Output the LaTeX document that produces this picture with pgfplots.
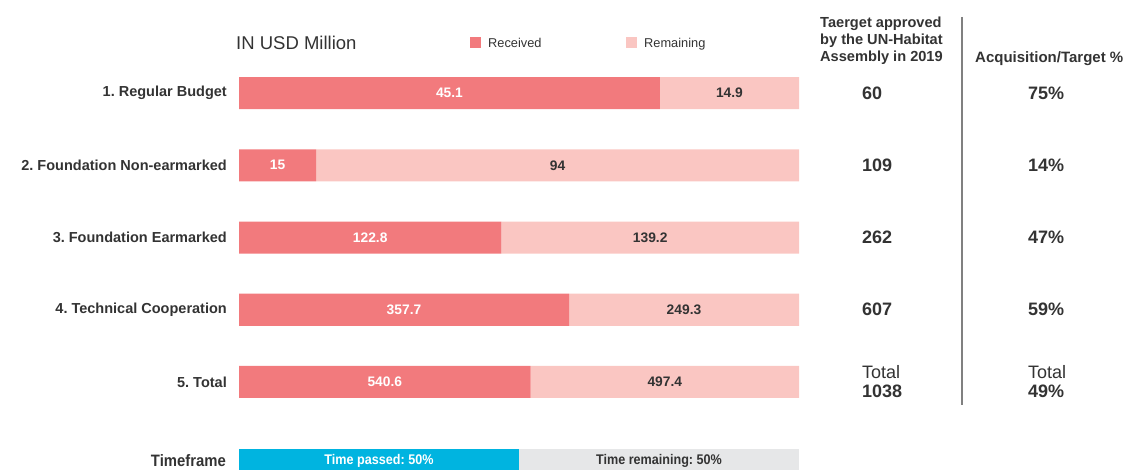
\documentclass[border=0pt]{standalone}
\usepackage{pgfplots}
\pgfplotsset{compat=1.18}
\usepackage{pgfplotstable}
\usepackage{fontspec}
\setmainfont{Liberation Sans}
\newfontfamily\condfont[FakeStretch=0.9]{Liberation Sans}
\frenchspacing
\definecolor{rec}{HTML}{F27A7D}
\definecolor{rem}{HTML}{FAC6C2}
\definecolor{tpass}{HTML}{00B4E0}
\definecolor{trem}{HTML}{E6E7E8}
\definecolor{txt}{HTML}{333333}
\definecolor{vline}{HTML}{808080}

% percentages of target (bar lengths) and the amounts shown on the bars
\pgfplotstableread{
y     recpct rempct tp tr rec   rem   reccen remcen
0     75.167 24.833 0  0  45.1  14.9  37.583 87.583
1     13.761 86.239 0  0  15    94    6.881  56.881
2     46.870 53.130 0  0  122.8 139.2 23.435 73.435
3     58.929 41.071 0  0  357.7 249.3 29.465 79.465
4     52.081 47.919 0  0  540.6 497.4 26.041 76.041
5.149 0      0      50 50 0     0     25     75
}\budget

% right-hand columns: target and acquisition/target %
\pgfplotstableread{
y  tgt  pct  xt     xp
0  60   75   111.25 140.89
1  109  14   111.25 140.89
2  262  47   111.25 140.89
3  607  59   111.25 140.89
}\rightcols

\pgfplotstableread{
y  tgt   pct  xt     xp
4  1038  49   111.25 140.89
}\totalcols

\pgfplotstableread{
y     x   v   lab
5.094 25  50  Timeframe
}\tpassed
\pgfplotstableread{
y     x   v
5.094 75  50
}\tremain

\begin{document}
\begin{tikzpicture}[x=1pt,y=1pt]
\useasboundingbox (0,-470) rectangle (1125,0);
\pgfplotsset{geom/.style={
  at={(239pt,-56.875pt)}, anchor=north west, scale only axis,
  width=560pt, height=433.5pt, xmin=0, xmax=100, ymin=-0.5, ymax=5.5,
  y dir=reverse}}

\begin{axis}[geom, xbar stacked, bar width=32pt, bar shift=0pt,
  axis line style={draw=none}, tick style={draw=none}, xtick=\empty,
  ytick={0,1,2,3,4},
  yticklabels={1. Regular Budget, 2. Foundation Non-earmarked, 3. Foundation Earmarked, 4. Technical Cooperation, 5. Total},
  yticklabel style={font=\fontsize{14.5}{16}\selectfont\bfseries, text=txt, inner sep=0pt, xshift=-12pt},
]
\addplot[fill=rec, draw=none] table[x=recpct, y=y] {\budget};
\addplot[fill=rem, draw=none] table[x=rempct, y=y] {\budget};
\addplot[fill=tpass, draw=none] table[x=tp, y=y] {\budget};
\addplot[fill=trem, draw=none] table[x=tr, y=y] {\budget};
\end{axis}

\begin{axis}[geom, hide axis, clip=false]
% amounts on bars
\addplot[draw=none, nodes near coords, point meta=explicit symbolic,
  every node near coord/.append style={anchor=center, inner sep=0pt, font=\fontsize{13.8}{15}\selectfont\bfseries, text=white},
  skip coords between index={5}{6}] table[x=reccen, y=y, meta=rec] {\budget};
\addplot[draw=none, nodes near coords, point meta=explicit symbolic,
  every node near coord/.append style={anchor=center, inner sep=0pt, font=\fontsize{13.8}{15}\selectfont\bfseries, text=txt},
  skip coords between index={5}{6}] table[x=remcen, y=y, meta=rem] {\budget};
% timeframe
\addplot[draw=none, nodes near coords, point meta=explicit symbolic,
  every node near coord/.append style={anchor=east, inner sep=0pt, xshift=-13pt, font=\condfont\fontsize{16.5}{18}\selectfont\bfseries, text=txt}]
  table[x expr=0, y=y, meta=lab] {\tpassed};
\addplot[draw=none, nodes near coords={Time passed: \pgfplotspointmeta\%}, point meta=explicit symbolic,
  every node near coord/.append style={anchor=center, inner sep=0pt, font=\condfont\fontsize{14}{16}\selectfont\bfseries, text=white}]
  table[x=x, y=y, meta=v] {\tpassed};
\addplot[draw=none, nodes near coords={Time remaining: \pgfplotspointmeta\%}, point meta=explicit symbolic,
  every node near coord/.append style={anchor=center, inner sep=0pt, font=\condfont\fontsize{14}{16}\selectfont\bfseries, text=txt}]
  table[x=x, y=y, meta=v] {\tremain};
% right columns
\addplot[draw=none, nodes near coords, point meta=explicit symbolic,
  every node near coord/.append style={anchor=west, inner sep=0pt, font=\fontsize{18}{20}\selectfont\bfseries, text=txt}]
  table[x=xt, y=y, meta=tgt] {\rightcols};
\addplot[draw=none, nodes near coords={\pgfplotspointmeta\%}, point meta=explicit symbolic,
  every node near coord/.append style={anchor=west, inner sep=0pt, font=\fontsize{18}{20}\selectfont\bfseries, text=txt}]
  table[x=xp, y=y, meta=pct] {\rightcols};
\addplot[draw=none, nodes near coords={{\mdseries Total}\\\pgfplotspointmeta}, point meta=explicit symbolic,
  every node near coord/.append style={anchor=west, align=left, inner sep=0pt, font=\fontsize{18}{19}\selectfont\bfseries, text=txt}]
  table[x=xt, y=y, meta=tgt] {\totalcols};
\addplot[draw=none, nodes near coords={{\mdseries Total}\\\pgfplotspointmeta\%}, point meta=explicit symbolic,
  every node near coord/.append style={anchor=west, align=left, inner sep=0pt, font=\fontsize{18}{19}\selectfont\bfseries, text=txt}]
  table[x=xp, y=y, meta=pct] {\totalcols};
\end{axis}

% header and legend
\node[anchor=base west, inner sep=0pt, text=txt, font=\fontsize{18.5}{20}\selectfont] at (236,-49.6) {IN USD Million};
\fill[rec] (470,-37.5) rectangle (481,-48.5);
\node[anchor=base west, inner sep=0pt, text=txt, font=\fontsize{12.8}{14}\selectfont] at (488,-47.5) {Received};
\fill[rem] (626,-37.5) rectangle (637,-48.5);
\node[anchor=base west, inner sep=0pt, text=txt, font=\fontsize{12.8}{14}\selectfont] at (644,-47.5) {Remaining};

\node[anchor=north west, inner sep=0pt, align=left, text=txt, font=\fontsize{14.6}{16.9}\selectfont\bfseries] at (820,-16.5) {Taerget approved\\by the UN-Habitat\\Assembly in 2019};
\node[anchor=base west, inner sep=0pt, text=txt, font=\fontsize{15}{17}\selectfont\bfseries] at (975,-63) {Acquisition/Target \%};
\draw[vline, line width=1.4pt] (962,-17) -- (962,-405);
\end{tikzpicture}
\end{document}
